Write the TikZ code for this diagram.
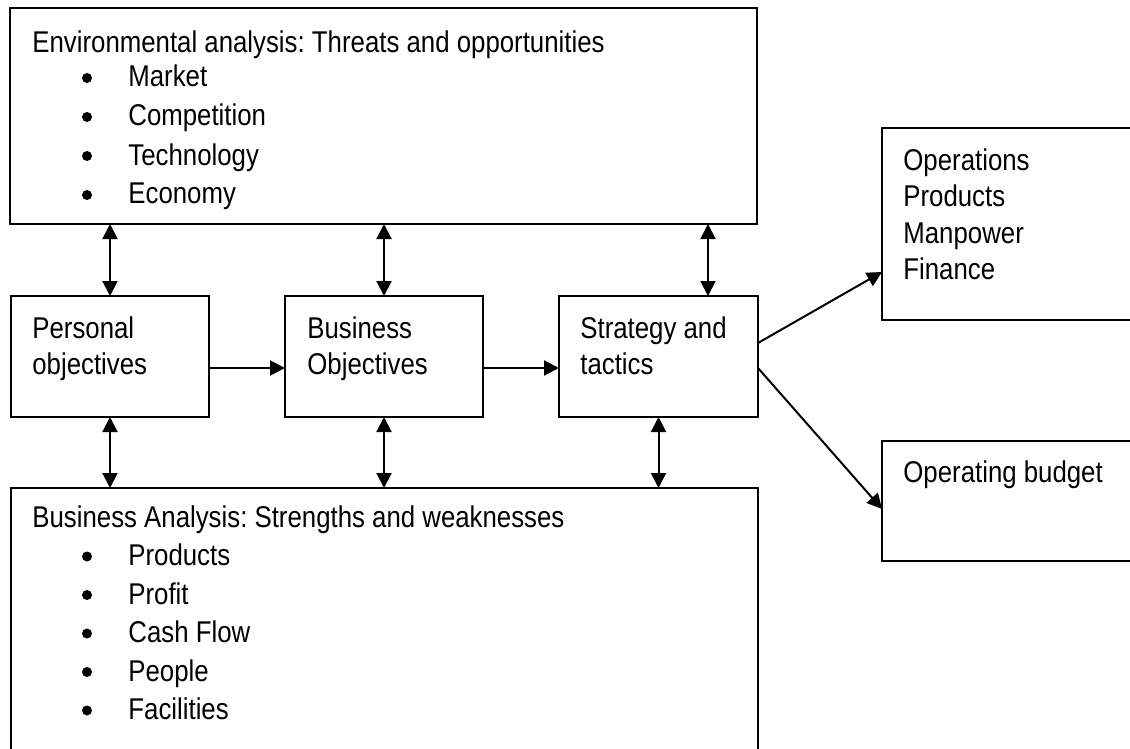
\documentclass[tikz,border=0pt]{standalone}
\usepackage{fontspec}
\setmainfont{Liberation Sans}[FakeStretch=0.86]
\usetikzlibrary{arrows.meta}

\begin{document}
\begin{tikzpicture}[x=0.5pt,y=-0.5pt,
  box/.style={draw,line width=1pt,rectangle,anchor=north west,inner sep=0pt,outer sep=0pt},
  txt/.style={anchor=base west,inner sep=0pt,font=\fontsize{15}{18}\selectfont\frenchspacing},
  dot/.style={circle,fill,inner sep=0pt,minimum size=5pt},
  conn/.style={line width=1pt,-{Triangle[length=7.5pt,width=7.5pt]}},
  dbl/.style={line width=1pt,{Triangle[length=7.5pt,width=7.5pt]}-{Triangle[length=7.5pt,width=7.5pt]}}]
\useasboundingbox (0,0) rectangle (1130,749);
\clip (0,0) rectangle (1130,749);

% boxes
\node[box,minimum width=373.5pt,minimum height=108pt] (env) at (10,8) {};
\node[box,minimum width=99pt,minimum height=60.5pt] (pers) at (11,296) {};
\node[box,minimum width=99pt,minimum height=60.5pt] (bus) at (285,296) {};
\node[box,minimum width=99.5pt,minimum height=60.5pt] (strat) at (559,296) {};
\node[box,minimum width=373.5pt,minimum height=141pt] (ana) at (11,488) {};
\node[box,minimum width=134pt,minimum height=96pt] (ops) at (882,128) {};
\node[box,minimum width=134pt,minimum height=60pt] (bud) at (882,441) {};

% texts
\node[txt] (env-title) at (32,53) {Environmental analysis: Threats and opportunities};
\foreach \t [count=\i] in {Market,Competition,Technology,Economy}{
  \node[dot] (env-dot\i) at (87,48+39*\i-9) {};
  \node[txt] (env-item\i) at (128,48+39*\i) {\t};
}
\node[txt] (ana-title) at (32,527) {Business Analysis: Strengths and weaknesses};
\foreach \t [count=\i] in {Products,Profit,Cash Flow,People,Facilities}{
  \node[dot] (ana-dot\i) at (87,527+38.5*\i-9) {};
  \node[txt] (ana-item\i) at (128,527+38.5*\i) {\t};
}
\node[txt] (pers-l1) at (32,338) {Personal};
\node[txt] (pers-l2) at (32,374) {objectives};
\node[txt] (bus-l1) at (307,338) {Business};
\node[txt] (bus-l2) at (307,374) {Objectives};
\node[txt] (strat-l1) at (580,338) {Strategy and};
\node[txt] (strat-l2) at (580,374) {tactics};
\foreach \t [count=\i] in {Operations,Products,Manpower,Finance}
  \node[txt] (ops-l\i) at (903,170+36.5*\i-36.5) {\t};
\node[txt] (bud-l1) at (903,482) {Operating budget};

% connectors
\coordinate (strat-top) at ([xshift=24.75pt]strat.north);
\draw[dbl] (pers.north |- env.south) -- (pers.north);
\draw[dbl] (bus.north |- env.south) -- (bus.north);
\draw[dbl] (strat-top |- env.south) -- (strat-top);
\draw[dbl] (pers.south) -- (pers.south |- ana.north);
\draw[dbl] (bus.south) -- (bus.south |- ana.north);
\draw[dbl] (strat.south) -- (strat.south |- ana.north);
\draw[conn] ([yshift=-5.75pt]pers.east) -- ([yshift=-5.75pt]bus.west);
\draw[conn] ([yshift=-5.75pt]bus.east) -- ([yshift=-5.75pt]strat.west);
\draw[conn] ([yshift=6.75pt]strat.east) -- ([yshift=-24pt]ops.west);
\draw[conn] ([yshift=-5.75pt]strat.east) -- ([yshift=-4pt]bud.west);
\end{tikzpicture}
\end{document}
